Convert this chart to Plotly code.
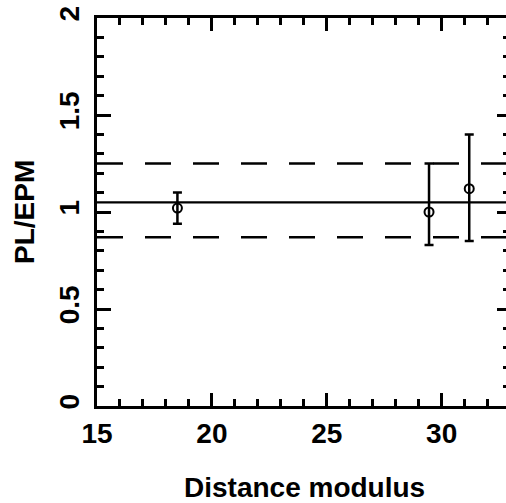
import plotly.graph_objects as go

# Data
dist_mod = [18.5, 29.45, 31.2]
ratio = [1.02, 1.0, 1.12]
err_plus = [0.08, 0.25, 0.28]
err_minus = [0.08, 0.17, 0.27]

line_x = [15, 33]
mean_level = [1.05, 1.05]
upper_level = [1.25, 1.25]
lower_level = [0.87, 0.87]

x_range = [15, 32.8]
y_range = [0, 2]
x_ticks = [15, 20, 25, 30]
y_ticks = [0, 0.5, 1, 1.5, 2]
y_ticklabels = ["0", "0.5", "1", "1.5", "2"]

FONT = "Liberation Sans"
W, H = 506, 503
ML, MR, MT, MB = 97, 0, 18, 97

fig = go.Figure()
fig.add_trace(go.Scatter(x=line_x, y=mean_level, mode="lines",
                         line=dict(color="black", width=2.2), yaxis="y2",
                         showlegend=False, hoverinfo="skip"))
for lvl in (upper_level, lower_level):
    fig.add_trace(go.Scatter(x=line_x, y=lvl, mode="lines",
                             line=dict(color="black", width=2.5, dash="26px,22px"),
                             showlegend=False, hoverinfo="skip"))
fig.add_trace(go.Scatter(
    x=dist_mod, y=ratio, mode="markers",
    marker=dict(symbol="circle-open", size=9, color="black", line=dict(width=2)),
    error_y=dict(type="data", symmetric=False, array=err_plus, arrayminus=err_minus,
                 color="black", thickness=2.5, width=4.5),
    showlegend=False))

tickfont = dict(family=FONT, size=28, color="black", weight="bold")
axis_common = dict(showgrid=False, zeroline=False, ticks="inside", tickcolor="black",
                   tickwidth=2.5, linecolor="black", linewidth=3, tickfont=tickfont)

fig.update_layout(
    width=W, height=H, autosize=False,
    margin=dict(l=ML, r=MR, t=MT, b=MB),
    paper_bgcolor="white", plot_bgcolor="white",
    xaxis=dict(range=x_range, tickvals=x_ticks, ticklen=13, showline=True, mirror="ticks",
               minor=dict(dtick=1, ticklen=7, ticks="inside", tickwidth=2.5, tickcolor="black"),
               ticklabelstandoff=0, **axis_common),
    yaxis=dict(range=y_range, tickvals=y_ticks, ticktext=y_ticklabels, ticklen=14,
               tickangle=-90, showline=True,
               minor=dict(dtick=0.1, ticklen=7, ticks="inside", tickwidth=2.5, tickcolor="black"),
               ticklabelstandoff=4, **axis_common),
    yaxis2=dict(range=y_range, overlaying="y", side="right", showgrid=False, zeroline=False,
                showline=False, showticklabels=False, ticks="inside", ticklen=9,
                tickvals=y_ticks, tickwidth=2.5, tickcolor="black",
                minor=dict(dtick=0.1, ticklen=3, ticks="inside", tickwidth=2.5, tickcolor="black")),
    annotations=[
        dict(text="Distance modulus", xref="paper", yref="paper",
             x=(304 - ML) / (W - ML - MR), y=(H - MB - 488) / (H - MB - MT),
             xanchor="center", yanchor="middle", showarrow=False,
             font=dict(family=FONT, size=28, color="black", weight="bold")),
        dict(text="PL/EPM", xref="paper", yref="paper",
             x=(24 - ML) / (W - ML - MR), y=0.5, textangle=-90,
             xanchor="center", yanchor="middle", showarrow=False,
             font=dict(family=FONT, size=28, color="black", weight="bold")),
    ],
)

fig.write_html("out.html")
